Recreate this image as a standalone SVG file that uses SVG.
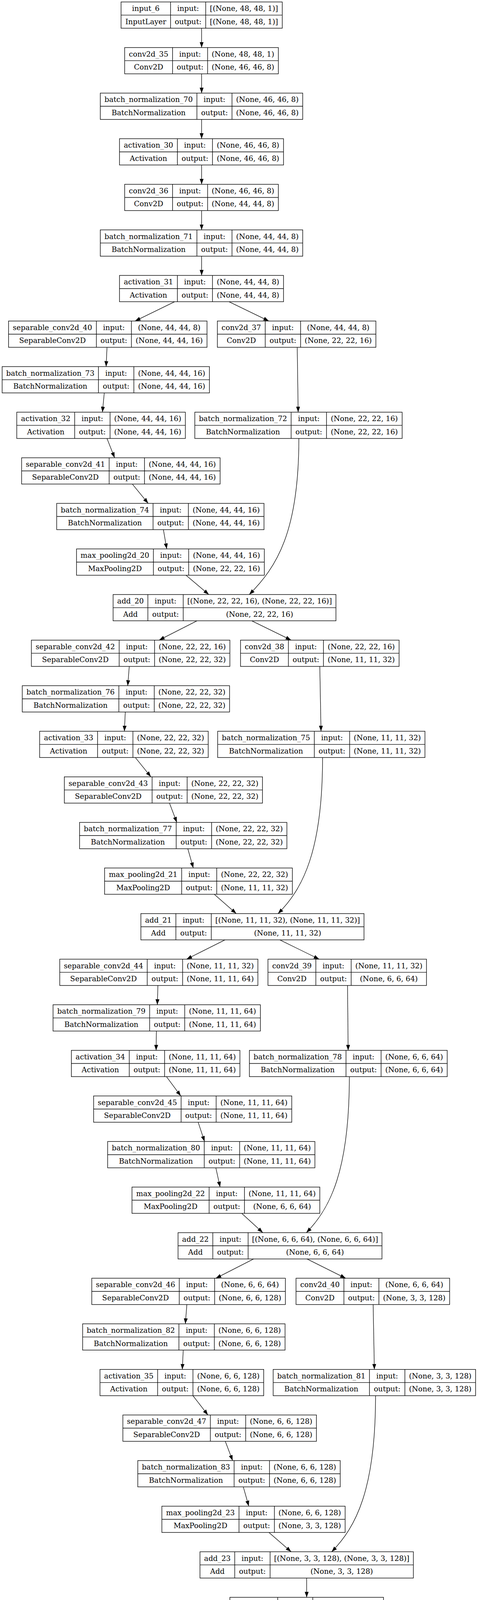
<svg xmlns="http://www.w3.org/2000/svg" width="1224" height="4396" viewBox="0 0 1224 4396">
<style>
.n rect{fill:#fff;stroke:#000;stroke-width:1.4}
.n path{fill:none;stroke:#000;stroke-width:1.4}
text{font-family:"DejaVu Serif","Liberation Serif",serif;font-size:18.67px;text-anchor:middle;fill:#000}
#edges path{fill:none;stroke:#000;stroke-width:1.3;marker-end:url(#a)}
</style>
<defs>
<marker id="a" markerUnits="userSpaceOnUse" markerWidth="14" markerHeight="10" refX="14" refY="5" orient="auto" viewBox="0 0 14 10"><path d="M0,0L14,5L0,10z" fill="#000"/></marker>
</defs>
<rect width="1224" height="4396" fill="#fff"/>
<g id="edges">
<path d="M516.3,72.3V121.7"/>
<path d="M516.3,189V238.4"/>
<path d="M516.3,305.7V355.1"/>
<path d="M516.3,422.4V471.8"/>
<path d="M516.3,539.1V588.5"/>
<path d="M516.3,655.8V705.1"/>
<path d="M447.3,772.4L345.8,821.8"/>
<path d="M586.3,772.4L688.5,821.8"/>
<path d="M274,889.1L271.7,938.5"/>
<path d="M267,1005.8L262.3,1055.2"/>
<path d="M761.1,889.1L763.5,1055.2"/>
<path d="M274,1122.5L293.5,1171.9"/>
<path d="M338.8,1239.2L379.4,1288.6"/>
<path d="M418.4,1355.9L427,1405.3"/>
<path d="M476.2,1472.6L534.7,1522"/>
<path d="M765.3,1122.5C765.3,1362 708.3,1452 638.3,1522"/>
<path d="M504.3,1589.3L407.5,1638.7"/>
<path d="M644.8,1589.3L745.5,1638.7"/>
<path d="M331,1706L327.1,1755.4"/>
<path d="M320.8,1822.7L318.5,1872"/>
<path d="M818.9,1706L822,1872"/>
<path d="M346.6,1939.3L386.4,1988.7"/>
<path d="M434,2056L452.8,2105.4"/>
<path d="M480.9,2172.7L495,2222.1"/>
<path d="M548.8,2289.4L605,2338.8"/>
<path d="M826,1939.3C826,2179 775,2276 712,2338.8"/>
<path d="M576.1,2406.1L477.8,2455.5"/>
<path d="M716.6,2406.1L817.3,2455.5"/>
<path d="M404.4,2522.8L402.8,2572.2"/>
<path d="M400.5,2639.5L399.7,2688.9"/>
<path d="M889.9,2522.8L891.5,2688.9"/>
<path d="M426.2,2756.2L462.9,2805.6"/>
<path d="M507.4,2872.9L523.8,2922.3"/>
<path d="M552.7,2989.6L563.6,3038.9"/>
<path d="M619,3106.2L672.9,3155.6"/>
<path d="M894.6,2756.2C894.6,2996 845.5,3094 784.5,3155.6"/>
<path d="M649.5,3222.9L552.7,3272.3"/>
<path d="M786.1,3222.9L885.2,3272.3"/>
<path d="M478.5,3339.6L474.6,3389"/>
<path d="M469.2,3456.3L466.8,3505.7"/>
<path d="M955.5,3339.6L958.6,3505.7"/>
<path d="M494.1,3573L532.4,3622.4"/>
<path d="M576.9,3689.7L595.6,3739.1"/>
<path d="M623,3806.4L637,3855.8"/>
<path d="M688.5,3923.1L745.5,3972.5"/>
<path d="M961.7,3573C961.7,3813 911.3,3910 849.3,3972.5"/>
<path d="M785.3,4039.8V4089.2"/>
<path d="M785.3,4156.5V4205.8"/>
<path d="M785.3,4273.1V4322.5"/>
</g>
<g id="input_6" class="n" transform="translate(310,5)"><rect width="412.7" height="67.3"/><path d="M0,33.65H412.7M126.7,0V67.3M216.7,0V67.3"/><text x="63.35" y="23">input_6</text><text x="63.35" y="56.6">InputLayer</text><text x="171.7" y="23">input:</text><text x="171.7" y="56.6">output:</text><text x="314.7" y="23">[(None, 48, 48, 1)]</text><text x="314.7" y="56.6">[(None, 48, 48, 1)]</text></g>
<g id="conv2d_35" class="n" transform="translate(319.3,121.7)"><rect width="393.4" height="67.3"/><path d="M0,33.65H393.4M122.5,0V67.3M212.3,0V67.3"/><text x="61.25" y="23">conv2d_35</text><text x="61.25" y="56.6">Conv2D</text><text x="167.4" y="23">input:</text><text x="167.4" y="56.6">output:</text><text x="302.85" y="23">(None, 48, 48, 1)</text><text x="302.85" y="56.6">(None, 46, 46, 8)</text></g>
<g id="batch_normalization_70" class="n" transform="translate(256.8,238.4)"><rect width="518.4" height="67.3"/><path d="M0,33.65H518.4M247.5,0V67.3M337.3,0V67.3"/><text x="123.75" y="23">batch_normalization_70</text><text x="123.75" y="56.6">BatchNormalization</text><text x="292.4" y="23">input:</text><text x="292.4" y="56.6">output:</text><text x="427.85" y="23">(None, 46, 46, 8)</text><text x="427.85" y="56.6">(None, 46, 46, 8)</text></g>
<g id="activation_30" class="n" transform="translate(306,355.1)"><rect width="420" height="67.3"/><path d="M0,33.65H420M148.3,0V67.3M238.1,0V67.3"/><text x="74.15" y="23">activation_30</text><text x="74.15" y="56.6">Activation</text><text x="193.2" y="23">input:</text><text x="193.2" y="56.6">output:</text><text x="329.05" y="23">(None, 46, 46, 8)</text><text x="329.05" y="56.6">(None, 46, 46, 8)</text></g>
<g id="conv2d_36" class="n" transform="translate(319.3,471.8)"><rect width="393.4" height="67.3"/><path d="M0,33.65H393.4M122.5,0V67.3M212.3,0V67.3"/><text x="61.25" y="23">conv2d_36</text><text x="61.25" y="56.6">Conv2D</text><text x="167.4" y="23">input:</text><text x="167.4" y="56.6">output:</text><text x="302.85" y="23">(None, 46, 46, 8)</text><text x="302.85" y="56.6">(None, 44, 44, 8)</text></g>
<g id="batch_normalization_71" class="n" transform="translate(256.8,588.5)"><rect width="518.4" height="67.3"/><path d="M0,33.65H518.4M247.5,0V67.3M337.3,0V67.3"/><text x="123.75" y="23">batch_normalization_71</text><text x="123.75" y="56.6">BatchNormalization</text><text x="292.4" y="23">input:</text><text x="292.4" y="56.6">output:</text><text x="427.85" y="23">(None, 44, 44, 8)</text><text x="427.85" y="56.6">(None, 44, 44, 8)</text></g>
<g id="activation_31" class="n" transform="translate(306,705.1)"><rect width="420" height="67.3"/><path d="M0,33.65H420M148.3,0V67.3M238.1,0V67.3"/><text x="74.15" y="23">activation_31</text><text x="74.15" y="56.6">Activation</text><text x="193.2" y="23">input:</text><text x="193.2" y="56.6">output:</text><text x="329.05" y="23">(None, 44, 44, 8)</text><text x="329.05" y="56.6">(None, 44, 44, 8)</text></g>
<g id="separable_conv2d_40" class="n" transform="translate(21.9,821.8)"><rect width="508.2" height="67.3"/><path d="M0,33.65H508.2M224.8,0V67.3M314.6,0V67.3"/><text x="112.4" y="23">separable_conv2d_40</text><text x="112.4" y="56.6">SeparableConv2D</text><text x="269.7" y="23">input:</text><text x="269.7" y="56.6">output:</text><text x="411.4" y="23">(None, 44, 44, 8)</text><text x="411.4" y="56.6">(None, 44, 44, 16)</text></g>
<g id="conv2d_37" class="n" transform="translate(556.6,821.8)"><rect width="405.9" height="67.3"/><path d="M0,33.65H405.9M122.6,0V67.3M213.1,0V67.3"/><text x="61.3" y="23">conv2d_37</text><text x="61.3" y="56.6">Conv2D</text><text x="167.85" y="23">input:</text><text x="167.85" y="56.6">output:</text><text x="309.5" y="23">(None, 44, 44, 8)</text><text x="309.5" y="56.6">(None, 22, 22, 16)</text></g>
<g id="batch_normalization_73" class="n" transform="translate(5.5,938.5)"><rect width="530.8" height="67.3"/><path d="M0,33.65H530.8M246.6,0V67.3M337.2,0V67.3"/><text x="123.3" y="23">batch_normalization_73</text><text x="123.3" y="56.6">BatchNormalization</text><text x="291.9" y="23">input:</text><text x="291.9" y="56.6">output:</text><text x="434" y="23">(None, 44, 44, 16)</text><text x="434" y="56.6">(None, 44, 44, 16)</text></g>
<g id="activation_32" class="n" transform="translate(42.9,1055.2)"><rect width="431.7" height="67.3"/><path d="M0,33.65H431.7M148.4,0V67.3M238.9,0V67.3"/><text x="74.2" y="23">activation_32</text><text x="74.2" y="56.6">Activation</text><text x="193.65" y="23">input:</text><text x="193.65" y="56.6">output:</text><text x="335.3" y="23">(None, 44, 44, 16)</text><text x="335.3" y="56.6">(None, 44, 44, 16)</text></g>
<g id="batch_normalization_72" class="n" transform="translate(498.8,1055.2)"><rect width="530.9" height="67.3"/><path d="M0,33.65H530.9M246.7,0V67.3M337.3,0V67.3"/><text x="123.35" y="23">batch_normalization_72</text><text x="123.35" y="56.6">BatchNormalization</text><text x="292" y="23">input:</text><text x="292" y="56.6">output:</text><text x="434.1" y="23">(None, 22, 22, 16)</text><text x="434.1" y="56.6">(None, 22, 22, 16)</text></g>
<g id="separable_conv2d_41" class="n" transform="translate(55.4,1171.9)"><rect width="508.2" height="67.3"/><path d="M0,33.65H508.2M224.1,0V67.3M314.6,0V67.3"/><text x="112.05" y="23">separable_conv2d_41</text><text x="112.05" y="56.6">SeparableConv2D</text><text x="269.35" y="23">input:</text><text x="269.35" y="56.6">output:</text><text x="411.4" y="23">(None, 44, 44, 16)</text><text x="411.4" y="56.6">(None, 44, 44, 16)</text></g>
<g id="batch_normalization_74" class="n" transform="translate(145.2,1288.6)"><rect width="530.8" height="67.3"/><path d="M0,33.65H530.8M246.7,0V67.3M337.2,0V67.3"/><text x="123.35" y="23">batch_normalization_74</text><text x="123.35" y="56.6">BatchNormalization</text><text x="291.95" y="23">input:</text><text x="291.95" y="56.6">output:</text><text x="434" y="23">(None, 44, 44, 16)</text><text x="434" y="56.6">(None, 44, 44, 16)</text></g>
<g id="max_pooling2d_20" class="n" transform="translate(195.9,1405.3)"><rect width="480.9" height="67.3"/><path d="M0,33.65H480.9M196.8,0V67.3M287.3,0V67.3"/><text x="98.4" y="23">max_pooling2d_20</text><text x="98.4" y="56.6">MaxPooling2D</text><text x="242.05" y="23">input:</text><text x="242.05" y="56.6">output:</text><text x="384.1" y="23">(None, 44, 44, 16)</text><text x="384.1" y="56.6">(None, 22, 22, 16)</text></g>
<g id="add_20" class="n" transform="translate(289.6,1522)"><rect width="570.7" height="67.3"/><path d="M0,33.65H570.7M89,0V67.3M179.6,0V67.3"/><text x="44.5" y="23">add_20</text><text x="44.5" y="56.6">Add</text><text x="134.3" y="23">input:</text><text x="134.3" y="56.6">output:</text><text x="375.15" y="23">[(None, 22, 22, 16), (None, 22, 22, 16)]</text><text x="375.15" y="56.6">(None, 22, 22, 16)</text></g>
<g id="separable_conv2d_42" class="n" transform="translate(80.4,1638.7)"><rect width="508.2" height="67.3"/><path d="M0,33.65H508.2M224.8,0V67.3M315.4,0V67.3"/><text x="112.4" y="23">separable_conv2d_42</text><text x="112.4" y="56.6">SeparableConv2D</text><text x="270.1" y="23">input:</text><text x="270.1" y="56.6">output:</text><text x="411.8" y="23">(None, 22, 22, 16)</text><text x="411.8" y="56.6">(None, 22, 22, 32)</text></g>
<g id="conv2d_38" class="n" transform="translate(615.9,1638.7)"><rect width="406" height="67.3"/><path d="M0,33.65H406M122.6,0V67.3M212.4,0V67.3"/><text x="61.3" y="23">conv2d_38</text><text x="61.3" y="56.6">Conv2D</text><text x="167.5" y="23">input:</text><text x="167.5" y="56.6">output:</text><text x="309.2" y="23">(None, 22, 22, 16)</text><text x="309.2" y="56.6">(None, 11, 11, 32)</text></g>
<g id="batch_normalization_76" class="n" transform="translate(57,1755.4)"><rect width="530.8" height="67.3"/><path d="M0,33.65H530.8M247.4,0V67.3M338,0V67.3"/><text x="123.7" y="23">batch_normalization_76</text><text x="123.7" y="56.6">BatchNormalization</text><text x="292.7" y="23">input:</text><text x="292.7" y="56.6">output:</text><text x="434.4" y="23">(None, 22, 22, 32)</text><text x="434.4" y="56.6">(None, 22, 22, 32)</text></g>
<g id="activation_33" class="n" transform="translate(101.5,1872)"><rect width="431.7" height="67.3"/><path d="M0,33.65H431.7M148.3,0V67.3M238.9,0V67.3"/><text x="74.15" y="23">activation_33</text><text x="74.15" y="56.6">Activation</text><text x="193.6" y="23">input:</text><text x="193.6" y="56.6">output:</text><text x="335.3" y="23">(None, 22, 22, 32)</text><text x="335.3" y="56.6">(None, 22, 22, 32)</text></g>
<g id="batch_normalization_75" class="n" transform="translate(557.4,1872)"><rect width="530.8" height="67.3"/><path d="M0,33.65H530.8M247.4,0V67.3M338,0V67.3"/><text x="123.7" y="23">batch_normalization_75</text><text x="123.7" y="56.6">BatchNormalization</text><text x="292.7" y="23">input:</text><text x="292.7" y="56.6">output:</text><text x="434.4" y="23">(None, 11, 11, 32)</text><text x="434.4" y="56.6">(None, 11, 11, 32)</text></g>
<g id="separable_conv2d_43" class="n" transform="translate(164.7,1988.7)"><rect width="507.4" height="67.3"/><path d="M0,33.65H507.4M224.8,0V67.3M314.6,0V67.3"/><text x="112.4" y="23">separable_conv2d_43</text><text x="112.4" y="56.6">SeparableConv2D</text><text x="269.7" y="23">input:</text><text x="269.7" y="56.6">output:</text><text x="411" y="23">(None, 22, 22, 32)</text><text x="411" y="56.6">(None, 22, 22, 32)</text></g>
<g id="batch_normalization_77" class="n" transform="translate(203.7,2105.4)"><rect width="530.9" height="67.3"/><path d="M0,33.65H530.9M247.5,0V67.3M338.1,0V67.3"/><text x="123.75" y="23">batch_normalization_77</text><text x="123.75" y="56.6">BatchNormalization</text><text x="292.8" y="23">input:</text><text x="292.8" y="56.6">output:</text><text x="434.5" y="23">(None, 22, 22, 32)</text><text x="434.5" y="56.6">(None, 22, 22, 32)</text></g>
<g id="max_pooling2d_21" class="n" transform="translate(267.8,2222.1)"><rect width="480.8" height="67.3"/><path d="M0,33.65H480.8M197.5,0V67.3M287.2,0V67.3"/><text x="98.75" y="23">max_pooling2d_21</text><text x="98.75" y="56.6">MaxPooling2D</text><text x="242.35" y="23">input:</text><text x="242.35" y="56.6">output:</text><text x="384" y="23">(None, 22, 22, 32)</text><text x="384" y="56.6">(None, 11, 11, 32)</text></g>
<g id="add_21" class="n" transform="translate(360.7,2338.8)"><rect width="571.4" height="67.3"/><path d="M0,33.65H571.4M89.7,0V67.3M180.3,0V67.3"/><text x="44.85" y="23">add_21</text><text x="44.85" y="56.6">Add</text><text x="135" y="23">input:</text><text x="135" y="56.6">output:</text><text x="375.85" y="23">[(None, 11, 11, 32), (None, 11, 11, 32)]</text><text x="375.85" y="56.6">(None, 11, 11, 32)</text></g>
<g id="separable_conv2d_44" class="n" transform="translate(153,2455.5)"><rect width="507.4" height="67.3"/><path d="M0,33.65H507.4M224,0V67.3M314.6,0V67.3"/><text x="112" y="23">separable_conv2d_44</text><text x="112" y="56.6">SeparableConv2D</text><text x="269.3" y="23">input:</text><text x="269.3" y="56.6">output:</text><text x="411" y="23">(None, 11, 11, 32)</text><text x="411" y="56.6">(None, 11, 11, 64)</text></g>
<g id="conv2d_39" class="n" transform="translate(686.2,2455.5)"><rect width="405.9" height="67.3"/><path d="M0,33.65H405.9M122.5,0V67.3M213.1,0V67.3"/><text x="61.25" y="23">conv2d_39</text><text x="61.25" y="56.6">Conv2D</text><text x="167.8" y="23">input:</text><text x="167.8" y="56.6">output:</text><text x="309.5" y="23">(None, 11, 11, 32)</text><text x="309.5" y="56.6">(None, 6, 6, 64)</text></g>
<g id="batch_normalization_79" class="n" transform="translate(135.8,2572.2)"><rect width="530.9" height="67.3"/><path d="M0,33.65H530.9M247.5,0V67.3M337.2,0V67.3"/><text x="123.75" y="23">batch_normalization_79</text><text x="123.75" y="56.6">BatchNormalization</text><text x="292.35" y="23">input:</text><text x="292.35" y="56.6">output:</text><text x="434.05" y="23">(None, 11, 11, 64)</text><text x="434.05" y="56.6">(None, 11, 11, 64)</text></g>
<g id="activation_34" class="n" transform="translate(182.7,2688.9)"><rect width="431.7" height="67.3"/><path d="M0,33.65H431.7M148.3,0V67.3M238.8,0V67.3"/><text x="74.15" y="23">activation_34</text><text x="74.15" y="56.6">Activation</text><text x="193.55" y="23">input:</text><text x="193.55" y="56.6">output:</text><text x="335.25" y="23">(None, 11, 11, 64)</text><text x="335.25" y="56.6">(None, 11, 11, 64)</text></g>
<g id="batch_normalization_78" class="n" transform="translate(638.6,2688.9)"><rect width="506.6" height="67.3"/><path d="M0,33.65H506.6M247.4,0V67.3M337.2,0V67.3"/><text x="123.7" y="23">batch_normalization_78</text><text x="123.7" y="56.6">BatchNormalization</text><text x="292.3" y="23">input:</text><text x="292.3" y="56.6">output:</text><text x="421.9" y="23">(None, 6, 6, 64)</text><text x="421.9" y="56.6">(None, 6, 6, 64)</text></g>
<g id="separable_conv2d_45" class="n" transform="translate(239.7,2805.6)"><rect width="507.4" height="67.3"/><path d="M0,33.65H507.4M224,0V67.3M313.8,0V67.3"/><text x="112" y="23">separable_conv2d_45</text><text x="112" y="56.6">SeparableConv2D</text><text x="268.9" y="23">input:</text><text x="268.9" y="56.6">output:</text><text x="410.6" y="23">(None, 11, 11, 64)</text><text x="410.6" y="56.6">(None, 11, 11, 64)</text></g>
<g id="batch_normalization_80" class="n" transform="translate(275.6,2922.3)"><rect width="530.8" height="67.3"/><path d="M0,33.65H530.8M247.4,0V67.3M338,0V67.3"/><text x="123.7" y="23">batch_normalization_80</text><text x="123.7" y="56.6">BatchNormalization</text><text x="292.7" y="23">input:</text><text x="292.7" y="56.6">output:</text><text x="434.4" y="23">(None, 11, 11, 64)</text><text x="434.4" y="56.6">(None, 11, 11, 64)</text></g>
<g id="max_pooling2d_22" class="n" transform="translate(338,3038.9)"><rect width="480.9" height="67.3"/><path d="M0,33.65H480.9M197.5,0V67.3M288,0V67.3"/><text x="98.75" y="23">max_pooling2d_22</text><text x="98.75" y="56.6">MaxPooling2D</text><text x="242.75" y="23">input:</text><text x="242.75" y="56.6">output:</text><text x="384.45" y="23">(None, 11, 11, 64)</text><text x="384.45" y="56.6">(None, 6, 6, 64)</text></g>
<g id="add_22" class="n" transform="translate(455.9,3155.6)"><rect width="522.2" height="67.3"/><path d="M0,33.65H522.2M89,0V67.3M179.5,0V67.3"/><text x="44.5" y="23">add_22</text><text x="44.5" y="56.6">Add</text><text x="134.25" y="23">input:</text><text x="134.25" y="56.6">output:</text><text x="350.85" y="23">[(None, 6, 6, 64), (None, 6, 6, 64)]</text><text x="350.85" y="56.6">(None, 6, 6, 64)</text></g>
<g id="separable_conv2d_46" class="n" transform="translate(235,3272.3)"><rect width="495.7" height="67.3"/><path d="M0,33.65H495.7M224,0V67.3M314.6,0V67.3"/><text x="112" y="23">separable_conv2d_46</text><text x="112" y="56.6">SeparableConv2D</text><text x="269.3" y="23">input:</text><text x="269.3" y="56.6">output:</text><text x="405.15" y="23">(None, 6, 6, 64)</text><text x="405.15" y="56.6">(None, 6, 6, 128)</text></g>
<g id="conv2d_40" class="n" transform="translate(758,3272.3)"><rect width="393.4" height="67.3"/><path d="M0,33.65H393.4M122.6,0V67.3M212.3,0V67.3"/><text x="61.3" y="23">conv2d_40</text><text x="61.3" y="56.6">Conv2D</text><text x="167.45" y="23">input:</text><text x="167.45" y="56.6">output:</text><text x="302.85" y="23">(None, 6, 6, 64)</text><text x="302.85" y="56.6">(None, 3, 3, 128)</text></g>
<g id="batch_normalization_82" class="n" transform="translate(211.6,3389)"><rect width="518.3" height="67.3"/><path d="M0,33.65H518.3M246.6,0V67.3M337.2,0V67.3"/><text x="123.3" y="23">batch_normalization_82</text><text x="123.3" y="56.6">BatchNormalization</text><text x="291.9" y="23">input:</text><text x="291.9" y="56.6">output:</text><text x="427.75" y="23">(None, 6, 6, 128)</text><text x="427.75" y="56.6">(None, 6, 6, 128)</text></g>
<g id="activation_35" class="n" transform="translate(256,3505.7)"><rect width="419.3" height="67.3"/><path d="M0,33.65H419.3M147.6,0V67.3M238.1,0V67.3"/><text x="73.8" y="23">activation_35</text><text x="73.8" y="56.6">Activation</text><text x="192.85" y="23">input:</text><text x="192.85" y="56.6">output:</text><text x="328.7" y="23">(None, 6, 6, 128)</text><text x="328.7" y="56.6">(None, 6, 6, 128)</text></g>
<g id="batch_normalization_81" class="n" transform="translate(699.5,3505.7)"><rect width="518.3" height="67.3"/><path d="M0,33.65H518.3M246.6,0V67.3M337.2,0V67.3"/><text x="123.3" y="23">batch_normalization_81</text><text x="123.3" y="56.6">BatchNormalization</text><text x="291.9" y="23">input:</text><text x="291.9" y="56.6">output:</text><text x="427.75" y="23">(None, 3, 3, 128)</text><text x="427.75" y="56.6">(None, 3, 3, 128)</text></g>
<g id="separable_conv2d_47" class="n" transform="translate(314.6,3622.4)"><rect width="495.7" height="67.3"/><path d="M0,33.65H495.7M224,0V67.3M314.6,0V67.3"/><text x="112" y="23">separable_conv2d_47</text><text x="112" y="56.6">SeparableConv2D</text><text x="269.3" y="23">input:</text><text x="269.3" y="56.6">output:</text><text x="405.15" y="23">(None, 6, 6, 128)</text><text x="405.15" y="56.6">(None, 6, 6, 128)</text></g>
<g id="batch_normalization_83" class="n" transform="translate(352.8,3739.1)"><rect width="518.4" height="67.3"/><path d="M0,33.65H518.4M246.7,0V67.3M337.3,0V67.3"/><text x="123.35" y="23">batch_normalization_83</text><text x="123.35" y="56.6">BatchNormalization</text><text x="292" y="23">input:</text><text x="292" y="56.6">output:</text><text x="427.85" y="23">(None, 6, 6, 128)</text><text x="427.85" y="56.6">(None, 6, 6, 128)</text></g>
<g id="max_pooling2d_23" class="n" transform="translate(414.5,3855.8)"><rect width="469.2" height="67.3"/><path d="M0,33.65H469.2M197.5,0V67.3M288.1,0V67.3"/><text x="98.75" y="23">max_pooling2d_23</text><text x="98.75" y="56.6">MaxPooling2D</text><text x="242.8" y="23">input:</text><text x="242.8" y="56.6">output:</text><text x="378.65" y="23">(None, 6, 6, 128)</text><text x="378.65" y="56.6">(None, 3, 3, 128)</text></g>
<g id="add_23" class="n" transform="translate(512.1,3972.5)"><rect width="546.4" height="67.3"/><path d="M0,33.65H546.4M89,0V67.3M179.5,0V67.3"/><text x="44.5" y="23">add_23</text><text x="44.5" y="56.6">Add</text><text x="134.25" y="23">input:</text><text x="134.25" y="56.6">output:</text><text x="362.95" y="23">[(None, 3, 3, 128), (None, 3, 3, 128)]</text><text x="362.95" y="56.6">(None, 3, 3, 128)</text></g>
<g id="conv2d_41" class="n" transform="translate(588.6,4089.2)"><rect width="393.4" height="67.3"/><path d="M0,33.65H393.4M122.6,0V67.3M212.3,0V67.3"/><text x="61.3" y="23">conv2d_41</text><text x="61.3" y="56.6">Conv2D</text><text x="167.45" y="23">input:</text><text x="167.45" y="56.6">output:</text><text x="302.85" y="23">(None, 3, 3, 128)</text><text x="302.85" y="56.6">(None, 3, 3, 7)</text></g>
<g id="global_average_pooling2d_5" class="n" transform="translate(517.6,4205.8)"><rect width="535.5" height="67.3"/><path d="M0,33.65H535.5M288,0V67.3M378.6,0V67.3"/><text x="144" y="23">global_average_pooling2d_5</text><text x="144" y="56.6">GlobalAveragePooling2D</text><text x="333.3" y="23">input:</text><text x="333.3" y="56.6">output:</text><text x="457.05" y="23">(None, 3, 3, 7)</text><text x="457.05" y="56.6">(None, 7)</text></g>
<g id="predictions" class="n" transform="translate(622.2,4322.5)"><rect width="326.3" height="67.3"/><path d="M0,33.65H326.3M128,0V67.3M217.8,0V67.3"/><text x="64" y="23">predictions</text><text x="64" y="56.6">Activation</text><text x="172.9" y="23">input:</text><text x="172.9" y="56.6">output:</text><text x="272.05" y="23">(None, 7)</text><text x="272.05" y="56.6">(None, 7)</text></g>
</svg>
